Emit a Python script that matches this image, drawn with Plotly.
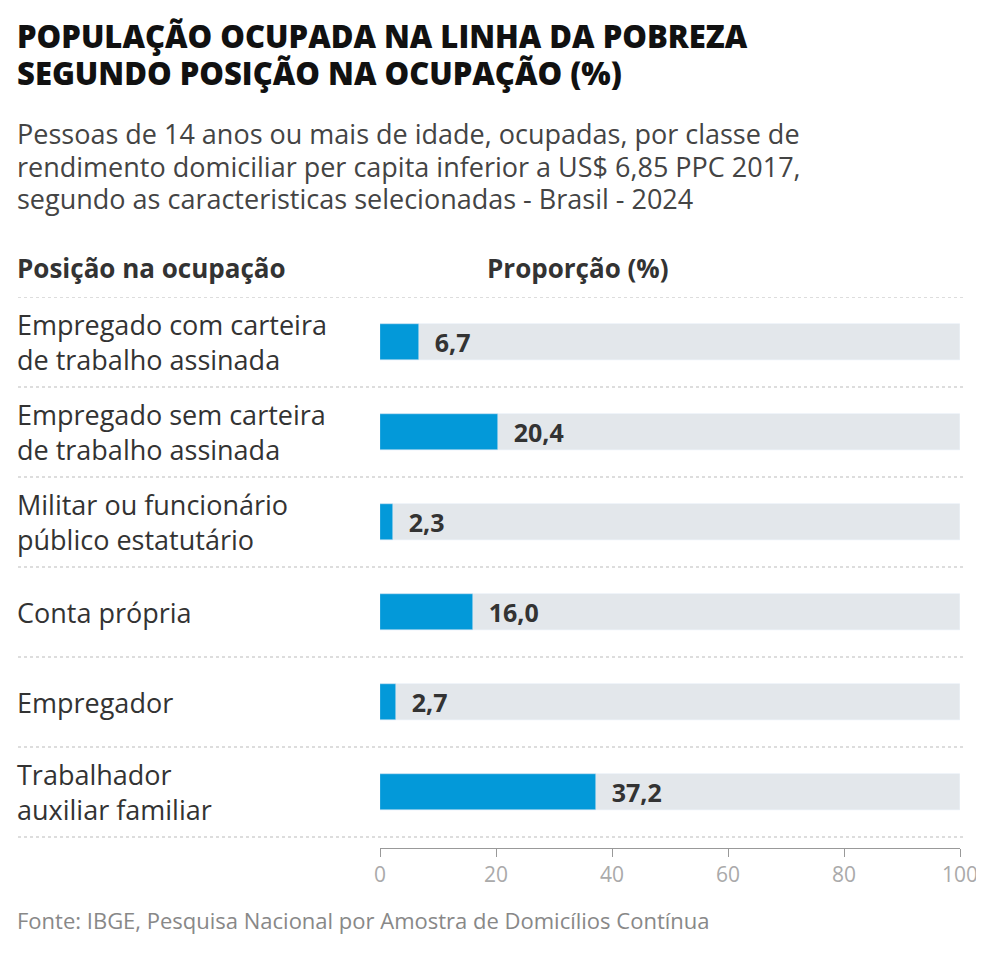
import plotly.graph_objects as go

categories = [
    "Empregado com carteira<br>de trabalho assinada",
    "Empregado sem carteira<br>de trabalho assinada",
    "Militar ou funcionário<br>público estatutário",
    "Conta própria",
    "Empregador",
    "Trabalhador<br>auxiliar familiar",
]
values = [6.7, 20.4, 2.3, 16.0, 2.7, 37.2]
value_labels = ["  6,7", "  20,4", "  2,3", "  16,0", "  2,7", "  37,2"]

# page body adds an offset of about 8px, so positions are shifted back
W, H = 984, 954
L, R, T, B = 372, 32, 289, 114
pw = W - L - R
ph = H - T - B
n = len(categories)
top = -0.5
bottom = top + ph / 90.0

def px_x(p):
    return (p - L) / pw

def px_y(p):
    return 1 - (p - T) / ph

ys = list(range(n))
FONT = "Open Sans"
TXT = "#333333"
TX = 7  # left edge for text

fig = go.Figure()
fig.add_trace(go.Bar(x=[100] * n, y=ys, orientation="h", width=0.4,
                     marker_color="#e3e7eb", hoverinfo="skip"))
fig.add_trace(go.Bar(x=values, y=ys, orientation="h", width=0.4,
                     marker_color="#0399d9", text=value_labels,
                     textposition="outside", cliponaxis=False,
                     textfont=dict(family=FONT, size=25, color=TXT, weight=700)))

shapes = []
for i in range(n + 1):
    shapes.append(dict(type="line", xref="paper", yref="y",
                       x0=px_x(10), x1=px_x(958), y0=i - 0.5, y1=i - 0.5,
                       line=dict(color="#bbbbbb", width=1, dash="dot")))

ann = []
for i, c in enumerate(categories):
    ann.append(dict(x=px_x(TX), y=i, xref="paper", yref="y", text=c,
                    showarrow=False, xanchor="left", yanchor="middle", align="left",
                    font=dict(family=FONT, size=27, color=TXT)))

def txt(x, y, s, size, color, weight=400):
    ann.append(dict(x=px_x(x), y=px_y(y), xref="paper", yref="paper", text=s,
                    showarrow=False, xanchor="left", yanchor="middle", align="left",
                    font=dict(family=FONT, size=size, color=color, weight=weight)))

txt(TX, 28, "POPULAÇÃO OCUPADA NA LINHA DA POBREZA", 31, "#111111", 800)
txt(TX, 65, "SEGUNDO POSIÇÃO NA OCUPAÇÃO (%)", 31, "#111111", 800)
txt(TX, 125, "Pessoas de 14 anos ou mais de idade, ocupadas, por classe de", 27, "#444444")
txt(TX, 158, "rendimento domiciliar per capita inferior a US$ 6,85 PPC 2017,", 27, "#444444")
txt(TX, 191, "segundo as caracteristicas selecionadas - Brasil - 2024", 27, "#444444")
txt(TX, 260, "Posição na ocupação", 26, TXT, 700)
txt(477, 260, "Proporção (%)", 26, TXT, 700)
txt(TX, 912, "Fonte: IBGE, Pesquisa Nacional por Amostra de Domicílios Contínua", 22, "#888888")

fig.update_layout(
    width=W, height=H, margin=dict(l=L, r=R, t=T, b=B),
    plot_bgcolor="white", paper_bgcolor="white",
    barmode="overlay", showlegend=False, bargap=0,
    shapes=shapes, annotations=ann,
    xaxis=dict(range=[0, 100], showgrid=False, zeroline=False,
               showline=True, linecolor="#999999", ticks="outside",
               ticklen=8, tickcolor="#999999", tickvals=[0, 20, 40, 60, 80, 100],
               tickfont=dict(family=FONT, size=21, color="#aaaaaa"), fixedrange=True),
    yaxis=dict(range=[bottom, top], showticklabels=False, showgrid=False,
               zeroline=False, fixedrange=True),
)

fig.write_html("out.html")
